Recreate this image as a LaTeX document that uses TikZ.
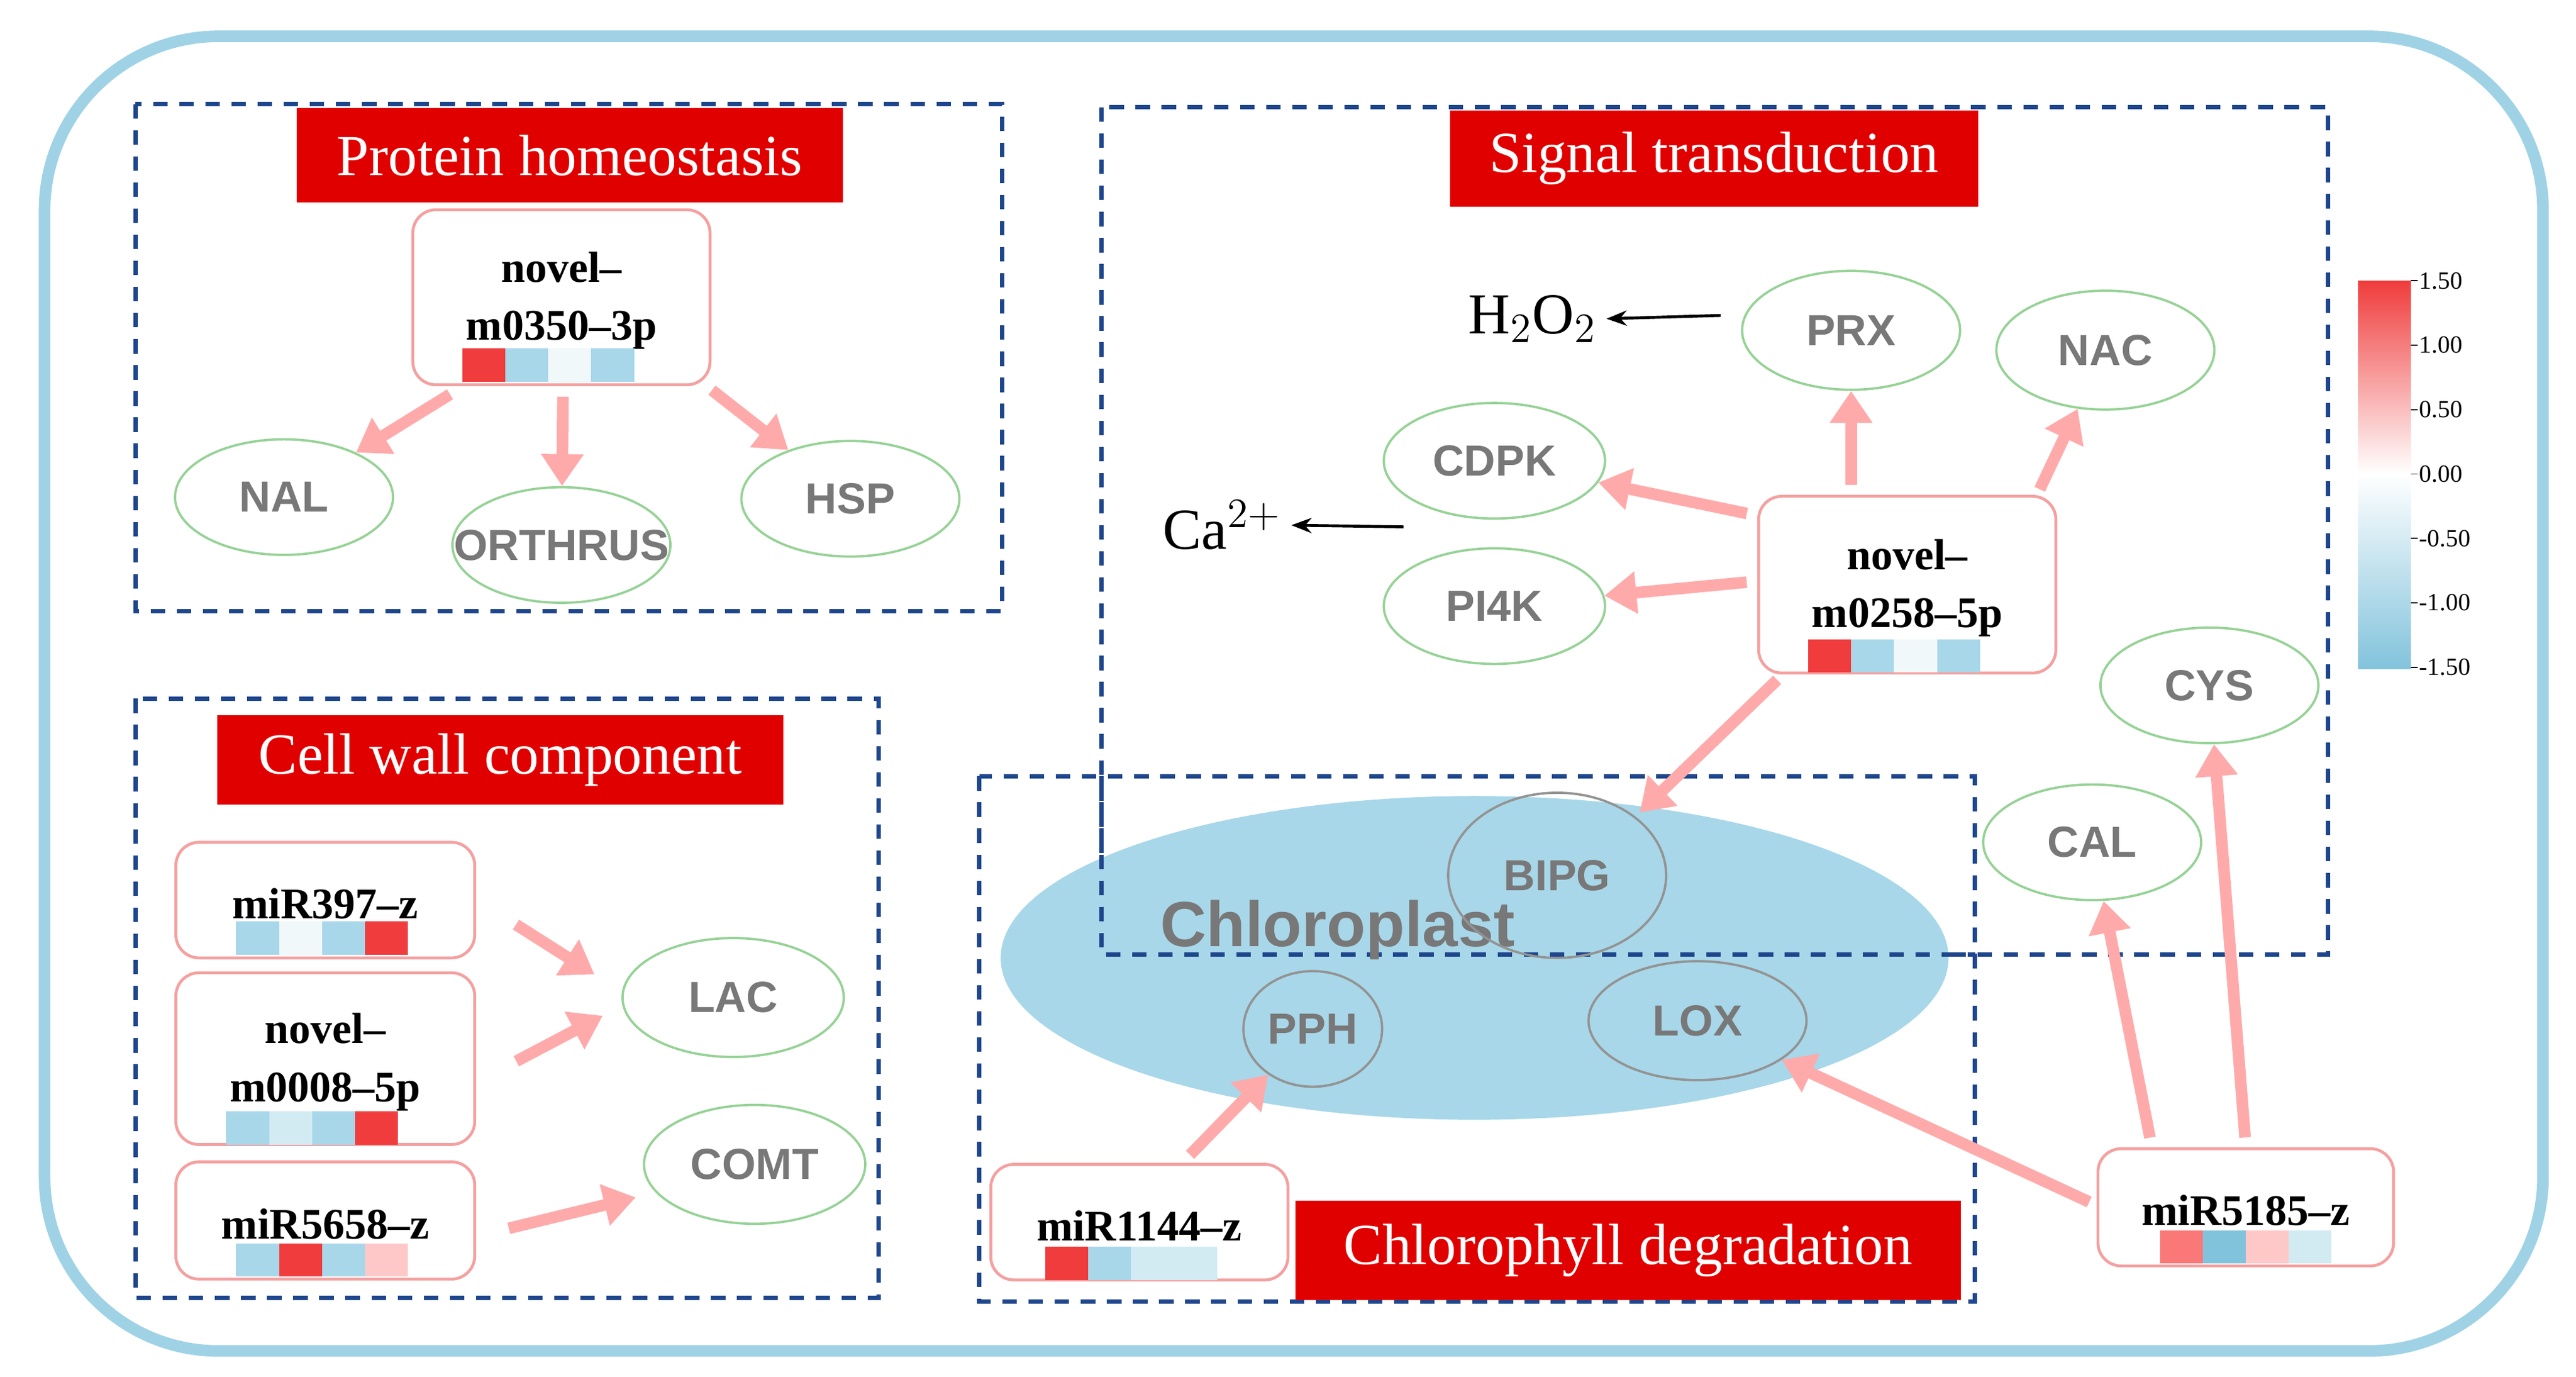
\documentclass[tikz,border=0pt]{standalone}
\usepackage{fontspec}
\setmainfont{Liberation Serif}
\newfontfamily\sansf{Liberation Sans}
\usetikzlibrary{arrows.meta,shapes.geometric}
\definecolor{frame}{RGB}{160,210,230}
\definecolor{dash}{RGB}{30,70,140}
\definecolor{tred}{RGB}{225,0,0}
\definecolor{pk}{RGB}{255,170,170}
\definecolor{bord}{RGB}{245,160,160}
\definecolor{gr}{RGB}{150,210,150}
\definecolor{lbl}{RGB}{120,120,120}
\definecolor{chl}{RGB}{168,215,233}
\definecolor{hr}{RGB}{240,60,60}
\definecolor{hb}{RGB}{168,215,233}
\definecolor{hbl}{RGB}{210,235,243}
\definecolor{hw}{RGB}{240,248,250}
\definecolor{hs}{RGB}{250,120,120}
\definecolor{hp}{RGB}{255,200,200}
\definecolor{hm}{RGB}{130,195,220}
\tikzset{
 x=0.02cm,y=-0.02cm,
 area/.style={draw=dash,dashed,line width=1.5pt,dash pattern=on 5pt off 4pt},
 title/.style={fill=tred,text=white,inner sep=0pt,font=\fontsize{20}{22}\selectfont},
 gene/.style={ellipse,draw=gr,line width=0.8pt,font=\sansf\bfseries\fontsize{15}{16}\selectfont,text=lbl,inner sep=0pt},
 org/.style={ellipse,draw=lbl!80,line width=0.8pt,font=\sansf\bfseries\fontsize{15}{16}\selectfont,text=lbl,inner sep=0pt},
 mbox/.style={draw=bord,rounded corners=8pt,line width=1pt,fill=white},
 mtxt/.style={font=\bfseries\fontsize{15}{17}\selectfont,align=center},
 pa/.style={draw=pk,line width=4pt,-{Triangle[length=11pt,width=14pt]},shorten <=3pt},
 ba/.style={draw=black,line width=1pt,-{Stealth[length=7pt]}},
}
\newcommand{\hcell}[4]{\fill[#1] (#2,#3) rectangle ++(26,#4);}
\begin{document}
\begin{tikzpicture}
\useasboundingbox (0,0) rectangle (1560,833.4);
\draw[frame,line width=4pt,rounded corners=60pt] (27,22) rectangle (1540,818);
% areas
\draw[area] (82,63) rectangle (607,370);
\draw[area] (667,65) rectangle (1410,578);
\draw[area] (82,423) rectangle (532,786);
\draw[area] (593,470) rectangle (1196,788);
% chloroplast
\fill[chl] (893,580) ellipse [x radius=287,y radius=98];
\draw[area] (667,470) -- (667,578) -- (1196,578);
\node[font=\sansf\bfseries\fontsize{22}{24}\selectfont,text=lbl] (chltxt) at (810,563) {Chloroplast};
% titles
\node[title,minimum width=331*0.02cm,minimum height=57*0.02cm] (t1) at (345,94) {Protein homeostasis};
\node[title,minimum width=320*0.02cm,minimum height=58*0.02cm] (t2) at (1038,96) {Signal transduction};
\node[title,minimum width=343*0.02cm,minimum height=54*0.02cm] (t3) at (303,460) {Cell wall component};
\node[title,minimum width=403*0.02cm,minimum height=60*0.02cm] (t4) at (986,757) {Chlorophyll degradation};
% protein
\node[mbox,minimum width=180*0.02cm,minimum height=106*0.02cm] (m350) at (340,180) {};
\node[mtxt] at (340,182) {novel--\\[3pt]m0350--3p};
\hcell{hr}{280}{211}{20}\hcell{hb}{306}{211}{20}\hcell{hw}{332}{211}{20}\hcell{hb}{358}{211}{20}
\node[gene,minimum width=132*0.02cm,minimum height=70*0.02cm] (nal) at (172,301) {NAL};
\node[gene,minimum width=132*0.02cm,minimum height=70*0.02cm] (orth) at (340,330) {};
\node[font=\sansf\bfseries\fontsize{15}{16}\selectfont,text=lbl] (orthtxt) at (340,330) {ORTHRUS};
\node[gene,minimum width=132*0.02cm,minimum height=70*0.02cm] (hsp) at (515,302) {HSP};
\draw[pa] (277,236) -- (nal);
\draw[pa] (341,235) -- (orth);
\draw[pa] (427,233) -- (hsp);
% signal
\node[mbox,minimum width=180*0.02cm,minimum height=107*0.02cm] (m258) at (1155,354) {};
\node[mtxt] at (1155,356) {novel--\\[3pt]m0258--5p};
\hcell{hr}{1095}{387}{20}\hcell{hb}{1121}{387}{20}\hcell{hw}{1147}{387}{20}\hcell{hb}{1173}{387}{20}
\node[gene,minimum width=132*0.02cm,minimum height=72*0.02cm] (prx) at (1121,200) {PRX};
\node[gene,minimum width=132*0.02cm,minimum height=72*0.02cm] (nac) at (1275,212) {NAC};
\node[gene,minimum width=134*0.02cm,minimum height=70*0.02cm] (cdpk) at (905,279) {CDPK};
\node[gene,minimum width=134*0.02cm,minimum height=70*0.02cm] (pi4k) at (905,367) {PI4K};
\node[gene,minimum width=132*0.02cm,minimum height=70*0.02cm] (cys) at (1338,415) {CYS};
\node[gene,minimum width=132*0.02cm,minimum height=70*0.02cm] (cal) at (1267,510) {CAL};
\node[font=\fontsize{20}{22}\selectfont] (h2o2) at (928,193) {H$_2$O$_2$};
\coordinate (h2s) at (1042,191);
\draw[ba] (h2s) -- (h2o2.east);
\node[font=\fontsize{20}{22}\selectfont] (ca) at (740,318) {Ca$^{2+}$};
\coordinate (cas) at (850,319);
\draw[ba] (cas) -- (ca.east);
\draw[pa] (1063,312) -- (cdpk);
\draw[pa] (1063,352) -- (pi4k);
\draw[pa] (1121,299) -- (prx);
\draw[pa] (1233,301) -- (nac);
% chloroplast genes
\node[org,minimum width=132*0.02cm,minimum height=100*0.02cm] (bipg) at (943,530) {BIPG};
\node[org,minimum width=84*0.02cm,minimum height=70*0.02cm] (pph) at (795,623) {PPH};
\node[org,minimum width=132*0.02cm,minimum height=72*0.02cm] (lox) at (1028,618) {LOX};
\draw[pa] (1080,408) -- (993,492);
\node[mbox,minimum width=180*0.02cm,minimum height=70*0.02cm] (m1144) at (690,740) {};
\node[mtxt] at (690,742) {miR1144--z};
\hcell{hr}{633}{755}{20}\hcell{hb}{659}{755}{20}\hcell{hbl}{685}{755}{20}\hcell{hbl}{711}{755}{20}
\draw[pa] (717,703) -- (pph);
\node[mbox,minimum width=179*0.02cm,minimum height=71*0.02cm] (m5185) at (1360,731) {};
\node[mtxt] at (1360,733) {miR5185--z};
\hcell{hs}{1308}{745}{20}\hcell{hm}{1334}{745}{20}\hcell{hp}{1360}{745}{20}\hcell{hbl}{1386}{745}{20}
\draw[pa] (1270,730) -- (lox);
\draw[pa] (1303,694) -- (cal);
\draw[pa] (1360,694) -- (cys);
% colorbar
\shade[top color=hr,bottom color=white] (1428,170) rectangle (1460,287);
\shade[top color=white,bottom color=hm] (1428,287) rectangle (1460,405);
\foreach \v/\yy in {1.50/170,1.00/209,0.50/248,0.00/287,-0.50/326,-1.00/365,-1.50/404}{
 \draw (1460,\yy) -- (1464,\yy);
 \node[anchor=west,inner sep=1pt,font=\fontsize{8.5}{9}\selectfont] at (1463,\yy) {\v};}
% cell wall
\node[mbox,minimum width=181*0.02cm,minimum height=70*0.02cm] (m397) at (197,545) {};
\node[mtxt] at (197,547) {miR397--z};
\hcell{hb}{143}{558}{20}\hcell{hw}{169}{558}{20}\hcell{hb}{195}{558}{20}\hcell{hr}{221}{558}{20}
\node[mbox,minimum width=181*0.02cm,minimum height=104*0.02cm] (m008) at (197,641) {};
\node[mtxt] at (197,643) {novel--\\[3pt]m0008--5p};
\hcell{hb}{137}{673}{20}\hcell{hbl}{163}{673}{20}\hcell{hb}{189}{673}{20}\hcell{hr}{215}{673}{20}
\node[mbox,minimum width=181*0.02cm,minimum height=71*0.02cm] (m5658) at (197,739) {};
\node[mtxt] at (197,741) {miR5658--z};
\hcell{hb}{143}{753}{20}\hcell{hr}{169}{753}{20}\hcell{hb}{195}{753}{20}\hcell{hp}{221}{753}{20}
\node[gene,minimum width=134*0.02cm,minimum height=72*0.02cm] (lac) at (444,604) {LAC};
\node[gene,minimum width=134*0.02cm,minimum height=72*0.02cm] (comt) at (457,705) {COMT};
\coordinate (a1) at (360,590);\coordinate (a2) at (365,615);\coordinate (a3) at (385,725);
\draw[pa] (308,557) -- (a1);
\draw[pa] (308,645) -- (a2);
\draw[pa] (303,745) -- (a3);
\end{tikzpicture}
\end{document}
